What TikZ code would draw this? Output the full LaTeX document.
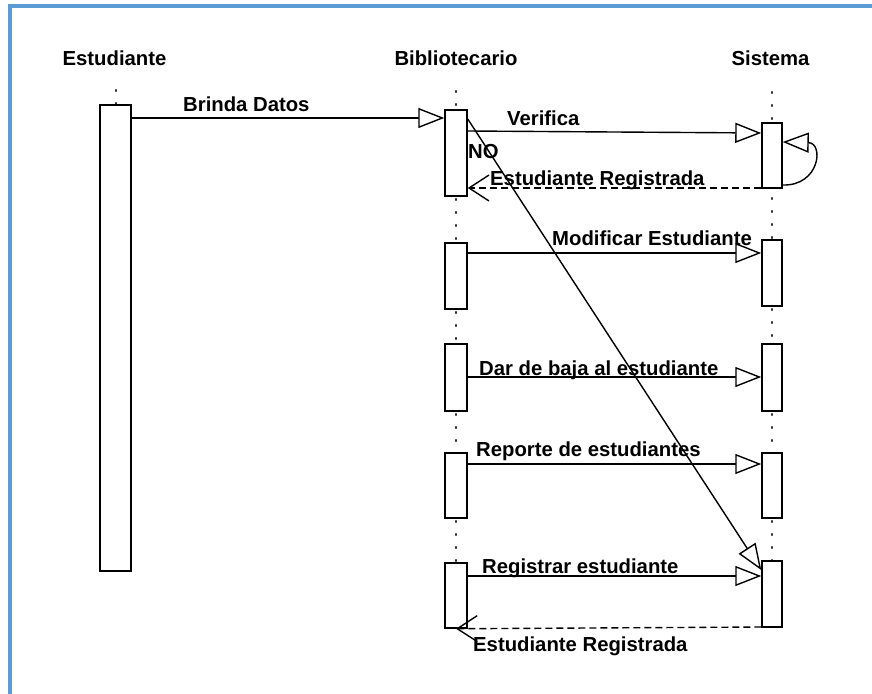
\documentclass[tikz,border=0pt]{standalone}
\usepackage{fontspec}
\setmainfont{Liberation Sans}
\usetikzlibrary{arrows.meta}
\definecolor{frameblue}{HTML}{5B9BD5}
\definecolor{dotgray}{HTML}{303030}
\begin{document}
\begin{tikzpicture}[x=1pt,y=-1pt,
  act/.style={draw,fill=white,line width=1.5pt,rectangle,inner sep=0pt},
  life/.style={draw=dotgray,line width=2.4pt,line cap=round,dash pattern=on 1pt off 12pt},
  msg/.style={line width=1.4pt,-{Triangle[open,length=26pt,width=20pt,fill=white]}},
  ret/.style={line width=1.4pt,dash pattern=on 7pt off 4pt,-{Straight Barb[length=20pt,width=26pt,line width=1.4pt]}},
  lbl/.style={anchor=base west,inner sep=0pt,font=\fontsize{20.3}{24}\selectfont\bfseries},
  head/.style={anchor=base,inner sep=0pt,font=\fontsize{20.3}{24}\selectfont\bfseries}]
\useasboundingbox (0,0) rectangle (872,693);
\fill[white] (0,0) rectangle (872,693);
% outer frame
\draw[frameblue,line width=4pt] (10,700) -- (10,6) -- (880,6);

% lifeline headers
\node[head] (hE) at (114.5,65) {Estudiante};
\node[head] (hB) at (456,65) {Bibliotecario};
\node[head] (hS) at (770.5,65) {Sistema};

% lifelines (dotted)
\draw[life] (116,90) -- (116,105);
\draw[life] (456,91) -- (456,110);
\draw[life] (456,199) -- (456,243);
\draw[life] (456,312) -- (456,344);
\draw[life] (456,414) -- (456,453);
\draw[life] (456,521) -- (456,563);
\draw[life] (772,92) -- (772,123);
\draw[life] (772,198) -- (772,240);
\draw[life] (772,309) -- (772,344);
\draw[life] (772,414) -- (772,453);
\draw[life] (772,521) -- (772,561);

% activation boxes
\node[act,minimum width=31,minimum height=466] (e1) at (115.5,338) {};
\node[act,minimum width=22,minimum height=86] (b1) at (456,153) {};
\node[act,minimum width=22,minimum height=66] (b2) at (456,276) {};
\node[act,minimum width=22,minimum height=67] (b3) at (456,377.5) {};
\node[act,minimum width=22,minimum height=65] (b4) at (456,485.5) {};
\node[act,minimum width=22,minimum height=65] (b5) at (456,595.5) {};
\node[act,minimum width=20,minimum height=65] (s1) at (772,155.5) {};
\node[act,minimum width=20,minimum height=66] (s2) at (772,273) {};
\node[act,minimum width=20,minimum height=67] (s3) at (772,377.5) {};
\node[act,minimum width=20,minimum height=65] (s4) at (772,485.5) {};
\node[act,minimum width=20,minimum height=66] (s5) at (772,594) {};

% messages
\draw[msg] (e1.east |- 0,118) -- (b1.west |- 0,118);
\draw[msg] (b1.east |- 0,131) -- (s1.west |- 0,133);
\draw[msg] (s1.east |- 0,185) .. controls (820,186) and (824,143) .. (s1.east |- 0,142);
\draw[ret] (s1.west |- 0,188) -- (b1.east |- 0,188);
\draw[msg] (b1.east |- 0,119) -- (s5.west |- 0,570);
\draw[msg] (b2.east |- 0,253) -- (s2.west |- 0,253);
\draw[msg] (b3.east |- 0,377) -- (s3.west |- 0,377);
\draw[msg] (b4.east |- 0,464) -- (s4.west |- 0,464);
\draw[msg] (b5.east |- 0,576) -- (s5.west |- 0,576);
\draw[ret] (s5.west |- 0,627) -- (b5.south);

% message labels
\node[lbl] (tBrinda) at (183,111.5) {Brinda Datos};
\node[lbl] (tVer) at (507,125) {Verifica};
\node[lbl] (tNo) at (468,158) {NO};
\node[lbl] (tReg1) at (490,185) {Estudiante Registrada};
\node[lbl] (tMod) at (552,245) {Modificar Estudiante};
\node[lbl] (tBaja) at (479,375) {Dar de baja al estudiante};
\node[lbl] (tRep) at (476,456) {Reporte de estudiantes};
\node[lbl] (tRegE) at (482,573) {Registrar estudiante};
\node[lbl] (tReg2) at (473,651) {Estudiante Registrada};
\end{tikzpicture}
\end{document}
